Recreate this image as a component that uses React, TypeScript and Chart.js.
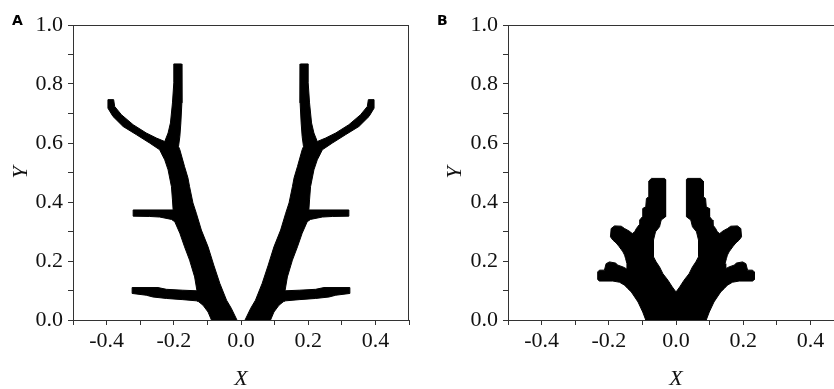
import React, { useEffect, useRef } from 'react';
import { Chart, registerables } from 'chart.js';

Chart.register(...registerables);

// ---------- data ----------
const xTickValues = [-0.5, -0.4, -0.3, -0.2, -0.1, 0, 0.1, 0.2, 0.3, 0.4, 0.5];
const xTickLabels = ['', '-0.4', '', '-0.2', '', '0.0', '', '0.2', '', '0.4', ''];
const yTickValues = [0, 0.1, 0.2, 0.3, 0.4, 0.5, 0.6, 0.7, 0.8, 0.9, 1.0];
const yTickLabels = ['0.0', '', '0.2', '', '0.4', '', '0.6', '', '0.8', '', '1.0'];

// Panel A: outline of the left tree (x, y)
const treeALeft: number[][] = [
  [-0.088, 0], [-0.098, 0.027], [-0.113, 0.05], [-0.126, 0.062], [-0.133, 0.065], [-0.173, 0.069],
  [-0.222, 0.073], [-0.262, 0.078], [-0.282, 0.084], [-0.324, 0.09], [-0.324, 0.11], [-0.247, 0.11],
  [-0.222, 0.104], [-0.173, 0.101], [-0.131, 0.099], [-0.138, 0.146], [-0.153, 0.203], [-0.168, 0.248],
  [-0.182, 0.294], [-0.197, 0.333], [-0.207, 0.341], [-0.242, 0.349], [-0.272, 0.351], [-0.321, 0.352],
  [-0.321, 0.373], [-0.202, 0.373], [-0.204, 0.407], [-0.207, 0.452], [-0.217, 0.509], [-0.227, 0.543],
  [-0.236, 0.563], [-0.242, 0.577], [-0.272, 0.6], [-0.311, 0.628], [-0.351, 0.656], [-0.381, 0.69],
  [-0.396, 0.718], [-0.396, 0.747], [-0.379, 0.747], [-0.376, 0.724], [-0.356, 0.696], [-0.321, 0.662],
  [-0.282, 0.634], [-0.252, 0.617], [-0.227, 0.605], [-0.217, 0.634], [-0.21, 0.668], [-0.204, 0.736],
  [-0.2, 0.804], [-0.2, 0.868], [-0.177, 0.868], [-0.176, 0.804], [-0.176, 0.736], [-0.179, 0.668],
  [-0.182, 0.622], [-0.186, 0.588], [-0.182, 0.577], [-0.168, 0.52], [-0.158, 0.482], [-0.153, 0.452],
  [-0.143, 0.397], [-0.133, 0.362], [-0.118, 0.305], [-0.098, 0.248], [-0.081, 0.186], [-0.063, 0.124],
  [-0.043, 0.067], [-0.029, 0.04], [-0.012, 0],
];

// Panel A: outline of the right tree (x, y)
const treeARight: number[][] = [
  [0.088, 0], [0.098, 0.027], [0.113, 0.05], [0.126, 0.062], [0.133, 0.065], [0.173, 0.069],
  [0.222, 0.073], [0.262, 0.078], [0.282, 0.084], [0.324, 0.09], [0.324, 0.11], [0.247, 0.11],
  [0.222, 0.104], [0.173, 0.101], [0.131, 0.099], [0.138, 0.146], [0.153, 0.203], [0.168, 0.248],
  [0.182, 0.294], [0.197, 0.333], [0.207, 0.341], [0.242, 0.349], [0.272, 0.351], [0.321, 0.352],
  [0.321, 0.373], [0.202, 0.373], [0.204, 0.407], [0.207, 0.452], [0.217, 0.509], [0.227, 0.543],
  [0.236, 0.563], [0.242, 0.577], [0.272, 0.6], [0.311, 0.628], [0.351, 0.656], [0.381, 0.69],
  [0.396, 0.718], [0.396, 0.747], [0.379, 0.747], [0.376, 0.724], [0.356, 0.696], [0.321, 0.662],
  [0.282, 0.634], [0.252, 0.617], [0.227, 0.605], [0.217, 0.634], [0.21, 0.668], [0.204, 0.736],
  [0.2, 0.804], [0.2, 0.868], [0.177, 0.868], [0.176, 0.804], [0.176, 0.736], [0.179, 0.668],
  [0.182, 0.622], [0.186, 0.588], [0.182, 0.577], [0.168, 0.52], [0.158, 0.482], [0.153, 0.452],
  [0.143, 0.397], [0.133, 0.362], [0.118, 0.305], [0.098, 0.248], [0.081, 0.186], [0.063, 0.124],
  [0.043, 0.067], [0.029, 0.04], [0.012, 0],
];

// Panel B: outline of the whole structure (x, y)
const shapeB: number[][] = [
  [-0.09, 0], [-0.099, 0.027], [-0.106, 0.044], [-0.113, 0.061], [-0.123, 0.078], [-0.133, 0.095],
  [-0.143, 0.106], [-0.153, 0.118], [-0.168, 0.128], [-0.188, 0.132], [-0.228, 0.132], [-0.233, 0.137],
  [-0.233, 0.163], [-0.228, 0.169], [-0.213, 0.169], [-0.208, 0.191], [-0.198, 0.197], [-0.18, 0.193],
  [-0.173, 0.186], [-0.158, 0.18], [-0.148, 0.174], [-0.146, 0.191], [-0.15, 0.208], [-0.153, 0.22],
  [-0.158, 0.231], [-0.163, 0.239], [-0.17, 0.25], [-0.178, 0.261], [-0.188, 0.271], [-0.195, 0.282],
  [-0.193, 0.31], [-0.183, 0.319], [-0.163, 0.318], [-0.153, 0.31], [-0.14, 0.302], [-0.13, 0.293],
  [-0.123, 0.299], [-0.118, 0.31], [-0.11, 0.322], [-0.108, 0.339], [-0.1, 0.35], [-0.099, 0.378],
  [-0.09, 0.384], [-0.088, 0.412], [-0.081, 0.418], [-0.081, 0.471], [-0.073, 0.48], [-0.034, 0.48],
  [-0.031, 0.476], [-0.031, 0.35], [-0.044, 0.339], [-0.049, 0.316], [-0.061, 0.299], [-0.067, 0.271],
  [-0.067, 0.214], [-0.059, 0.197], [-0.049, 0.18], [-0.039, 0.157], [-0.024, 0.135], [-0.011, 0.112],
  [0, 0.095],
  [0.011, 0.112], [0.024, 0.135], [0.039, 0.157], [0.049, 0.18], [0.059, 0.197], [0.067, 0.214],
  [0.067, 0.271], [0.061, 0.299], [0.049, 0.316], [0.044, 0.339], [0.031, 0.35], [0.031, 0.476],
  [0.034, 0.48], [0.073, 0.48], [0.081, 0.471], [0.081, 0.418], [0.088, 0.412], [0.09, 0.384],
  [0.099, 0.378], [0.1, 0.35], [0.108, 0.339], [0.11, 0.322], [0.118, 0.31], [0.123, 0.299],
  [0.13, 0.293], [0.14, 0.302], [0.153, 0.31], [0.163, 0.318], [0.183, 0.319], [0.193, 0.31],
  [0.195, 0.282], [0.188, 0.271], [0.178, 0.261], [0.17, 0.25], [0.163, 0.239], [0.158, 0.231],
  [0.153, 0.22], [0.15, 0.208], [0.146, 0.191], [0.148, 0.174], [0.158, 0.18], [0.173, 0.186],
  [0.18, 0.193], [0.198, 0.197], [0.208, 0.191], [0.213, 0.169], [0.228, 0.169], [0.233, 0.163],
  [0.233, 0.137], [0.228, 0.132], [0.188, 0.132], [0.168, 0.128], [0.153, 0.118], [0.143, 0.106],
  [0.133, 0.095], [0.123, 0.078], [0.113, 0.061], [0.106, 0.044], [0.099, 0.027], [0.09, 0],
];

// ---------- styling ----------
const AXIS_COLOR = '#333333';
const TEXT_COLOR = '#111111';
const SERIF = '"Liberation Serif", "Times New Roman", serif';
const H = 389;

const framePlugin = {
  id: 'frame',
  afterDraw(chart: any) {
    const { ctx, chartArea } = chart;
    const { left, right, top, bottom } = chartArea;
    ctx.save();
    ctx.strokeStyle = AXIS_COLOR;
    ctx.lineWidth = 1;
    ctx.beginPath();
    ctx.moveTo(left, Math.round(top) + 0.5);
    ctx.lineTo(right, Math.round(top) + 0.5);
    ctx.moveTo(Math.round(right) - 0.5, top);
    ctx.lineTo(Math.round(right) - 0.5, bottom);
    ctx.stroke();
    ctx.restore();
  },
};

function shapeDataset(points: number[][]) {
  return {
    data: points.map((p) => ({ x: p[0], y: p[1] })),
    showLine: true,
    fill: 'shape',
    backgroundColor: '#000000',
    borderColor: '#000000',
    borderWidth: 1,
    borderJoinStyle: 'miter',
    pointRadius: 0,
    pointHoverRadius: 0,
    tension: 0,
  };
}

interface PanelProps {
  left: number;
  width: number;
  chartLeft: number;
  chartRight: number;
  shapes: number[][][];
  yTitlePad: number;
}

function Panel({ left, width, chartLeft, chartRight, shapes, yTitlePad }: PanelProps) {
  const ref = useRef<HTMLCanvasElement>(null);
  useEffect(() => {
    if (!ref.current) return;
    const chart = new Chart(ref.current, {
      type: 'scatter',
      data: { datasets: shapes.map((s) => shapeDataset(s)) as any },
      options: {
        animation: false,
        responsive: false,
        devicePixelRatio: 1,
        events: [],
        layout: { padding: { top: 25, right: width - chartRight, bottom: 0, left: 0 } },
        plugins: { legend: { display: false }, tooltip: { enabled: false }, title: { display: false } },
        scales: {
          x: {
            type: 'linear',
            min: -0.5,
            max: 0.5,
            afterBuildTicks: (scale: any) => {
              scale.ticks = xTickValues.map((v) => ({ value: v }));
            },
            afterFit: (scale: any) => {
              scale.height = H - 320;
            },
            ticks: {
              autoSkip: false,
              maxRotation: 0,
              minRotation: 0,
              padding: 3,
              color: TEXT_COLOR,
              font: { family: SERIF, size: 22 },
              callback: (_v: any, i: number) => xTickLabels[i],
            },
            grid: { drawOnChartArea: false, drawTicks: true, tickLength: 5, tickColor: AXIS_COLOR },
            border: { display: true, color: AXIS_COLOR, width: 1 },
            title: {
              display: true,
              text: 'X',
              color: TEXT_COLOR,
              font: { family: SERIF, size: 22, style: 'italic', lineHeight: 0.85 },
              padding: { top: 0, bottom: 0 },
            },
          },
          y: {
            type: 'linear',
            min: 0,
            max: 1,
            afterBuildTicks: (scale: any) => {
              scale.ticks = yTickValues.map((v) => ({ value: v }));
            },
            afterFit: (scale: any) => {
              scale.width = chartLeft;
            },
            ticks: {
              autoSkip: false,
              padding: 5,
              color: TEXT_COLOR,
              font: { family: SERIF, size: 22 },
              callback: (_v: any, i: number) => yTickLabels[i],
            },
            grid: { drawOnChartArea: false, drawTicks: true, tickLength: 5, tickColor: AXIS_COLOR },
            border: { display: true, color: AXIS_COLOR, width: 1 },
            title: {
              display: true,
              text: 'Y',
              color: TEXT_COLOR,
              font: { family: SERIF, size: 22, style: 'italic', lineHeight: 1.2 },
              padding: { top: yTitlePad, bottom: 0 },
            },
          },
        },
      },
      plugins: [framePlugin],
    } as any);
    return () => chart.destroy();
  }, []);
  return (
    <canvas
      ref={ref}
      width={width}
      height={H}
      style={{ position: 'absolute', left, top: 0, width, height: H, display: 'block' }}
    />
  );
}

const labelStyle: React.CSSProperties = {
  position: 'absolute',
  font: 'bold 14px "DejaVu Sans", "Liberation Sans", Arial, sans-serif',
  lineHeight: '15px',
  color: '#000',
};

export default function App() {
  return (
    <div
      style={{
        position: 'absolute',
        left: 0,
        top: 0,
        width: 834,
        height: H,
        overflow: 'hidden',
        background: '#ffffff',
      }}
    >
      <Panel left={0} width={420} chartLeft={73} chartRight={409} shapes={[treeALeft, treeARight]} yTitlePad={7.6} />
      <Panel left={420} width={440} chartLeft={88} chartRight={424} shapes={[shapeB]} yTitlePad={22.5} />
      <div style={{ ...labelStyle, left: 12, top: 13 }}>A</div>
      <div style={{ ...labelStyle, left: 437, top: 13 }}>B</div>
    </div>
  );
}
